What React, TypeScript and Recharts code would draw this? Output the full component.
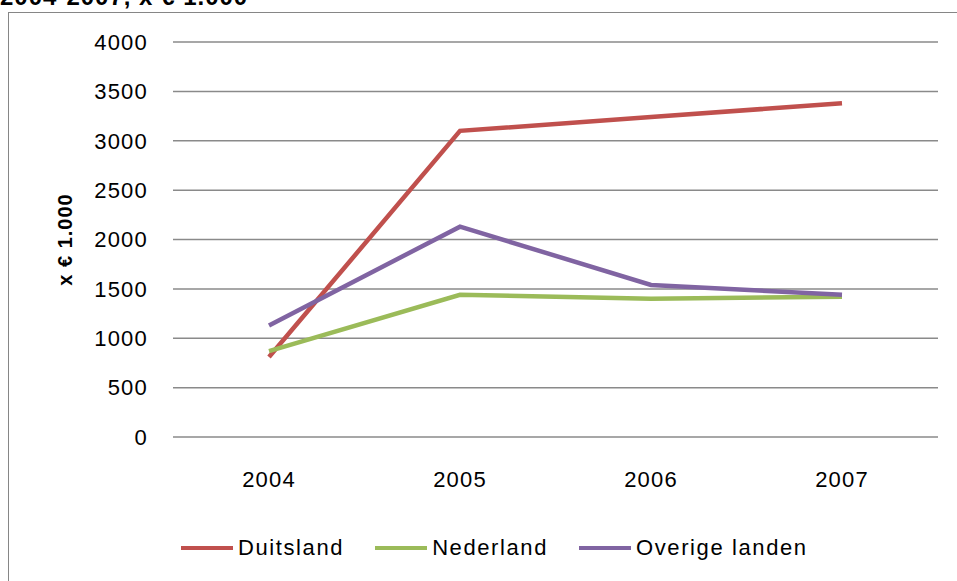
import { CartesianGrid, Line, LineChart, XAxis, YAxis, Label } from 'recharts'

const years = ['2004', '2005', '2006', '2007']
const duitsland = [810, 3100, 3240, 3380]
const nederland = [870, 1440, 1400, 1420]
const overigeLanden = [1130, 2130, 1540, 1440]
const yTicks = [0, 500, 1000, 1500, 2000, 2500, 3000, 3500, 4000]

const series = [
  { key: 'duitsland', name: 'Duitsland', color: '#C0504D' },
  { key: 'nederland', name: 'Nederland', color: '#9BBB59' },
  { key: 'overige', name: 'Overige landen', color: '#8064A2' },
]

const data = years.map((year, i) => ({
  year,
  duitsland: duitsland[i],
  nederland: nederland[i],
  overige: overigeLanden[i],
}))

const FONT = '"Liberation Sans", Arial, sans-serif'
const TICK = { fontSize: 22, fill: '#000', fontFamily: FONT, letterSpacing: 1.2 }

export default function App() {
  return (
    <div style={{ position: 'relative', width: 957, height: 581, overflow: 'hidden', background: '#fff' }}>
      <style>{'body{margin:0;overflow:hidden}'}</style>
      {/* title sits mostly above the crop, only its lower edge shows */}
      <div
        style={{
          position: 'absolute',
          left: 0,
          top: -15,
          fontFamily: FONT,
          fontWeight: 'bold',
          fontSize: 24,
          lineHeight: 1,
          letterSpacing: 1,
          whiteSpace: 'nowrap',
        }}
      >
        2004-2007, x € 1.000
      </div>
      <div
        style={{
          position: 'absolute',
          left: 8,
          top: 12,
          width: 1000,
          height: 700,
          border: '1px solid #868686',
        }}
      />
      <div style={{ position: 'absolute', left: 0, top: 0 }}>
        <LineChart width={957} height={581} data={data} margin={{ top: 42, right: 19, bottom: 84, left: 93 }}>
          <CartesianGrid horizontal vertical={false} stroke="#8a8a8a" strokeWidth={1.5} />
          <XAxis
            dataKey="year"
            height={60}
            padding={{ left: 96, right: 96 }}
            axisLine={false}
            tickLine={false}
            tickSize={0}
            tickMargin={34}
            tick={TICK}
          />
          <YAxis
            width={80}
            domain={[0, 4000]}
            ticks={yTicks}
            axisLine={false}
            tickLine={false}
            tickSize={0}
            tickMargin={25}
            tick={TICK}
          >
            <Label
              value="x € 1.000"
              angle={-90}
              position="insideLeft"
              offset={-28}
              style={{ fontSize: 20, fontWeight: 'bold', fontFamily: FONT, fill: '#000', letterSpacing: 1, textAnchor: 'middle' }}
            />
          </YAxis>
          {series.map((s) => (
            <Line
              key={s.key}
              type="linear"
              dataKey={s.key}
              name={s.name}
              stroke={s.color}
              strokeWidth={4.5}
              dot={false}
              activeDot={false}
              isAnimationActive={false}
            />
          ))}
        </LineChart>
      </div>
      <div
        style={{
          position: 'absolute',
          left: 181,
          top: 536,
          display: 'flex',
          alignItems: 'center',
          fontFamily: FONT,
          fontSize: 22,
          letterSpacing: 1.6,
          lineHeight: '24px',
        }}
      >
        {series.map((s) => (
          <div key={s.key} style={{ display: 'flex', alignItems: 'center', marginRight: 31 }}>
            <span style={{ display: 'inline-block', width: 52, height: 4, background: s.color, marginRight: 5 }} />
            <span>{s.name}</span>
          </div>
        ))}
      </div>
    </div>
  )
}
